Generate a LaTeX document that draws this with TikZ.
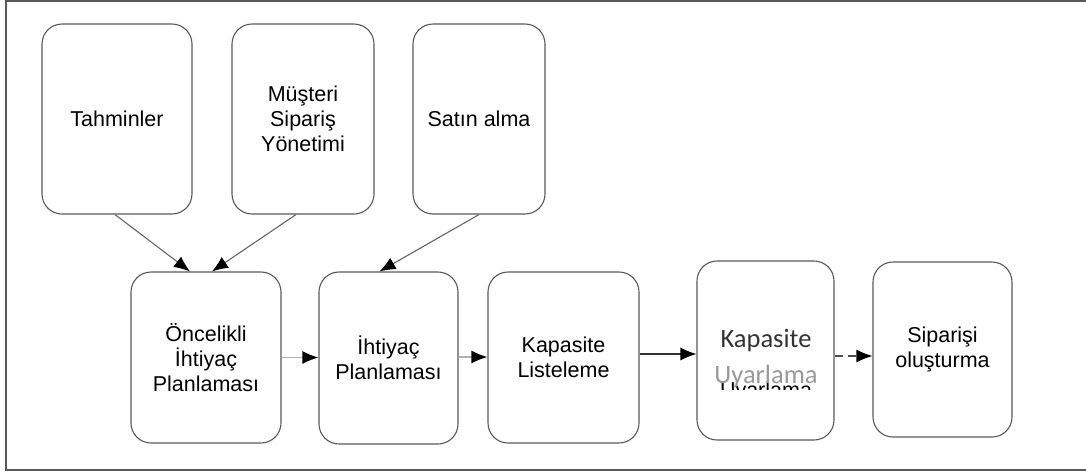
\documentclass[tikz,border=0pt]{standalone}
\usepackage{fontspec}
\setmainfont{Liberation Sans}
\newfontfamily\calibrifont{Carlito}
\usetikzlibrary{arrows.meta,calc}
\begin{document}
\begin{tikzpicture}[x=1pt,y=-1pt,
  box/.style={draw=black!65, line width=1.1pt, rounded corners=20pt, align=center,
    font=\fontsize{21.5}{25}\selectfont, inner sep=0pt},
  tip/.style={-{Latex[length=16pt,width=13pt,color=black]}},
  flow/.style={draw=black!60, line width=1.1pt, tip},
  lightflow/.style={draw=black!30, line width=1.4pt, tip},
  frame/.style={draw=black!65, line width=1.3pt}]
\useasboundingbox (0,0) rectangle (1086,472);
\draw[frame] (1090,1) -- (6,1) -- (6,470) -- (1090,470);

% upper input boxes
\node[box, minimum width=150pt, minimum height=190pt] (t) at (117,119) {Tahminler};
\node[box, minimum width=142pt, minimum height=190pt] (m) at (303,119) {Müşteri\\Sipariş\\Yönetimi};
\node[box, minimum width=132pt, minimum height=190pt] (s) at (479,119) {Satın alma};

% lower process chain
\node[box, minimum width=150pt, minimum height=171pt] (o) at (206,357.5) {Öncelikli\\İhtiyaç\\Planlaması};
\node[box, minimum width=139pt, minimum height=172pt] (i) at (388.5,358) {İhtiyaç\\Planlaması};
\node[box, minimum width=151pt, minimum height=171pt] (kl) at (563.5,357.5) {Kapasite\\Listeleme};
\node[box, minimum width=137pt, minimum height=179pt] (ku) at (765.5,350.5) {};
\node[box, minimum width=139pt, minimum height=175pt] (sp) at (942.5,349.5) {Siparişi\\oluşturma};

% label of the capacity adjustment box
\begin{scope}
  \clip (700,360) rectangle (832,389);
  \node[anchor=base, inner sep=0pt, font=\fontsize{21.5}{25}\selectfont] (kub) at (766,397) {Uyarlama};
\end{scope}
\node[anchor=base, inner sep=0pt, font=\calibrifont\fontsize{26.5}{30}\selectfont, text=black!80] (kua) at (766,347) {Kapasite};
\node[anchor=base, inner sep=0pt, font=\calibrifont\fontsize{26.5}{30}\selectfont, text=black!40] (kuc) at (766,383) {Uyarlama};

% connectors
\draw[flow] ($(t.south)+(-2,0)$) -- ($(o.north)+(-16,0)$);
\draw[flow] ($(m.south)+(-7,0)$) -- ($(o.north)+(6,0)$);
\draw[flow] (s.south) -- ($(i.north)+(-9,0)$);
\draw[lightflow] (o.east) -- (o.east -| i.west);
\draw[lightflow] ([yshift=1pt]i.east) -- ([yshift=1pt]i.east -| kl.west);
\draw[flow, draw=black!80] ([yshift=3.5pt]kl.east) -- ([yshift=3.5pt]kl.east -| ku.west);
\draw[flow, draw=black!70, dash pattern=on 8pt off 5pt] ([yshift=-5.5pt]ku.east) -- ([yshift=-5.5pt]ku.east -| sp.west);
\end{tikzpicture}
\end{document}
